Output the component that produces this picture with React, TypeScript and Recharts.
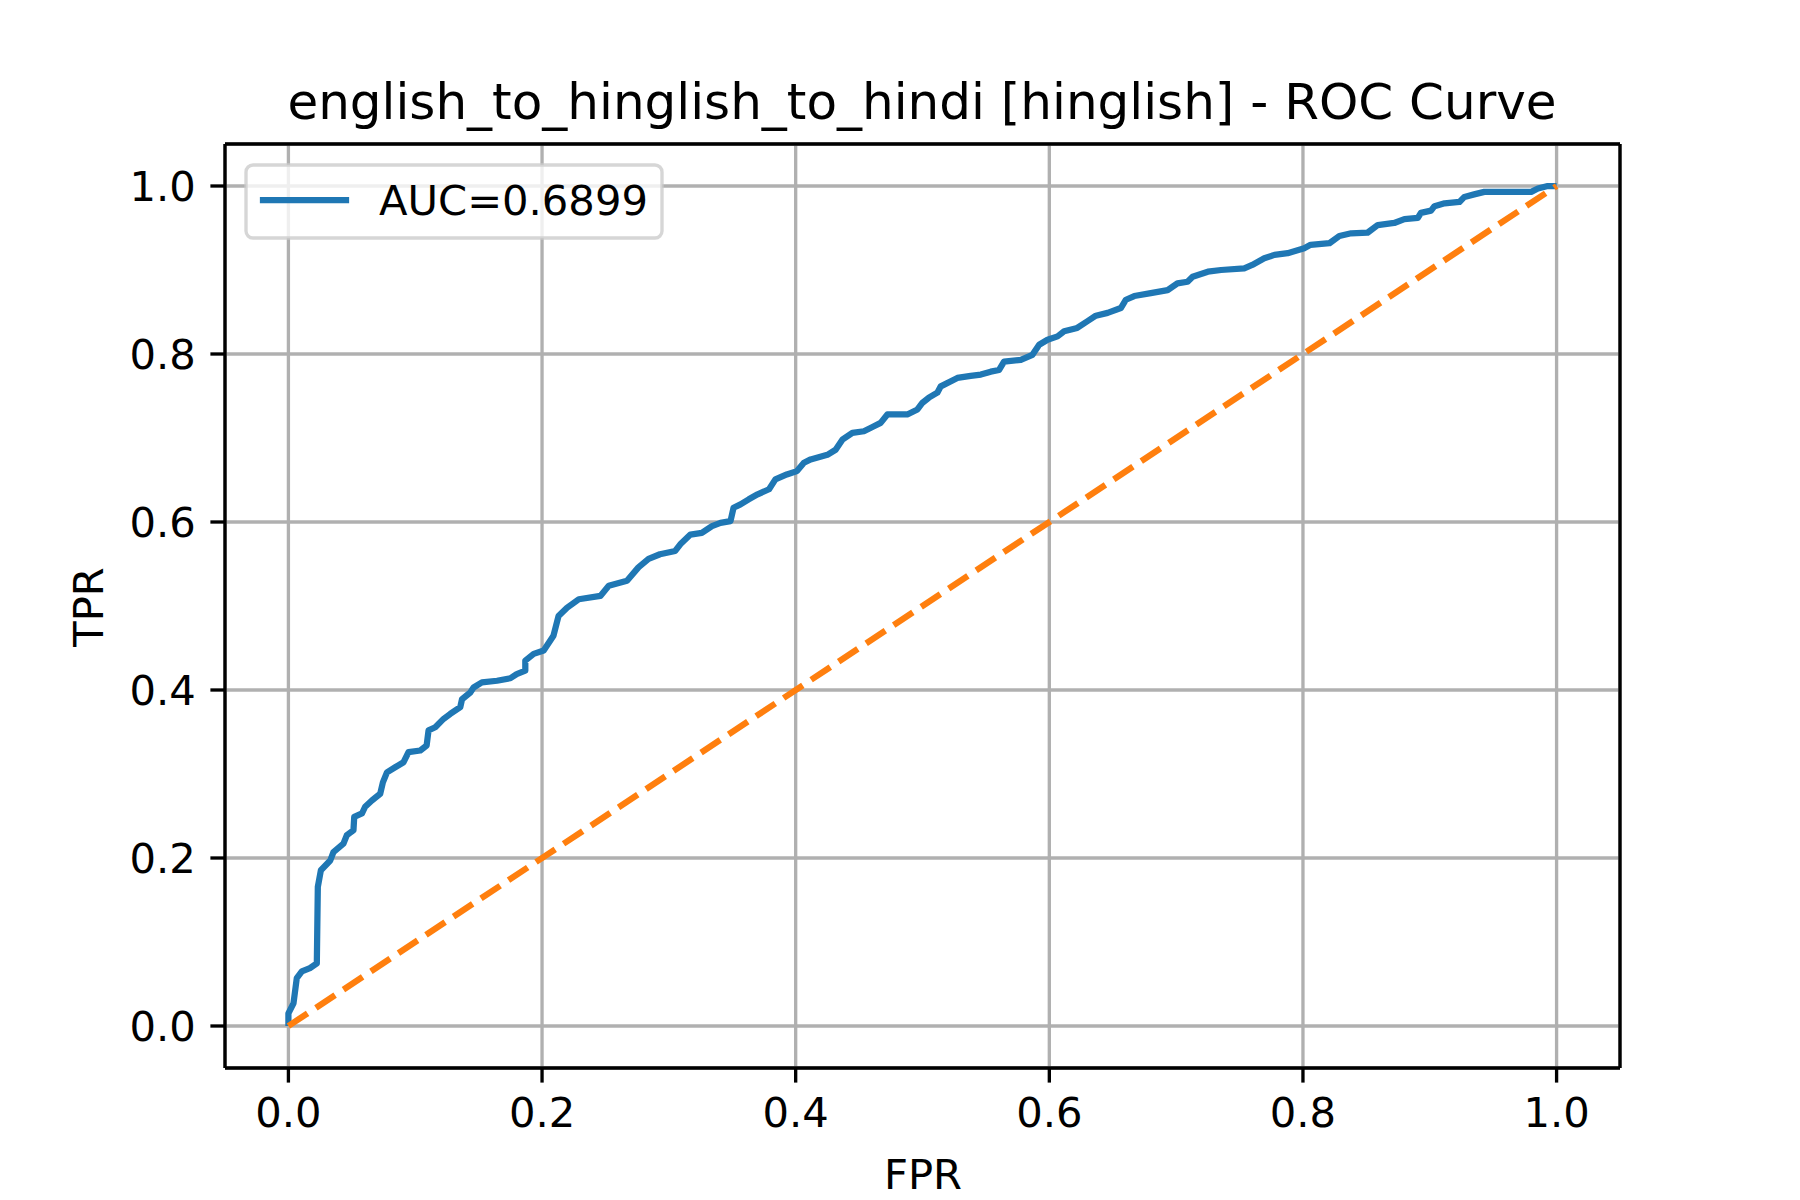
import { LineChart, Line, XAxis, YAxis, CartesianGrid } from "recharts";

// ROC curve points
const fpr = [
  0, 0, 0.004, 0.0066, 0.0106, 0.017, 0.0224, 0.0232, 0.0256, 0.033, 0.0355,
  0.0434, 0.046, 0.0513, 0.0519, 0.058, 0.0605, 0.0658, 0.0724, 0.0745, 0.0777,
  0.0842, 0.0908, 0.0947, 0.104, 0.109, 0.1105, 0.1158, 0.1223, 0.1276, 0.1355,
  0.1369, 0.1434, 0.146, 0.1526, 0.1645, 0.175, 0.18, 0.1868, 0.1868, 0.1934,
  0.2013, 0.209, 0.213, 0.2197, 0.229, 0.246, 0.2526, 0.267, 0.276, 0.284,
  0.293, 0.305, 0.309, 0.317, 0.326, 0.334, 0.3407, 0.3486, 0.351, 0.3565,
  0.363, 0.37, 0.379, 0.384, 0.393, 0.401, 0.4065, 0.4118, 0.425, 0.4315,
  0.4368, 0.4447, 0.4538, 0.4617, 0.467, 0.4723, 0.488, 0.496, 0.5, 0.505,
  0.5117, 0.5144, 0.5275, 0.538, 0.546, 0.5538, 0.5604, 0.5643, 0.5775, 0.5867,
  0.592, 0.5986, 0.6065, 0.6117, 0.622, 0.63, 0.6367, 0.646, 0.6564, 0.6604,
  0.667, 0.68, 0.6933, 0.701, 0.709, 0.713, 0.725, 0.7354, 0.7537, 0.76,
  0.7695, 0.7775, 0.788, 0.801, 0.806, 0.821, 0.8287, 0.838, 0.851, 0.859,
  0.872, 0.88, 0.8906, 0.893, 0.901, 0.9037, 0.9117, 0.9234, 0.9273, 0.935,
  0.943, 0.98, 0.9853, 0.993, 1.0,
];
const tpr = [
  0, 0.015, 0.027, 0.057, 0.065, 0.069, 0.0745, 0.1656, 0.1854, 0.197, 0.207,
  0.217, 0.227, 0.233, 0.249, 0.253, 0.261, 0.2685, 0.2765, 0.29, 0.302, 0.308,
  0.314, 0.326, 0.328, 0.334, 0.352, 0.3557, 0.3656, 0.3715, 0.3795, 0.389,
  0.397, 0.403, 0.409, 0.411, 0.414, 0.419, 0.423, 0.435, 0.443, 0.447, 0.4645,
  0.488, 0.498, 0.508, 0.512, 0.524, 0.53, 0.546, 0.556, 0.5616, 0.5655,
  0.5735, 0.585, 0.587, 0.595, 0.599, 0.601, 0.617, 0.621, 0.627, 0.633, 0.639,
  0.6507, 0.6566, 0.6606, 0.6706, 0.6745, 0.68, 0.686, 0.698, 0.706, 0.708,
  0.714, 0.718, 0.728, 0.728, 0.734, 0.742, 0.748, 0.754, 0.7615, 0.7715,
  0.774, 0.7755, 0.779, 0.781, 0.791, 0.793, 0.799, 0.811, 0.817, 0.821, 0.827,
  0.831, 0.839, 0.8456, 0.849, 0.8547, 0.8646, 0.869, 0.8725, 0.876, 0.884,
  0.886, 0.892, 0.898, 0.9, 0.902, 0.906, 0.914, 0.918, 0.92, 0.926, 0.93,
  0.932, 0.9405, 0.9437, 0.9445, 0.9535, 0.956, 0.9606, 0.962, 0.968, 0.9707,
  0.976, 0.9794, 0.981, 0.987, 0.99, 0.993, 0.993, 0.997, 1.0, 1.0,
];

// chance diagonal
const diagFpr = [0, 1];
const diagTpr = [0, 1];

const ticks = [0, 0.2, 0.4, 0.6, 0.8, 1.0];
const aucLabel = "AUC=0.6899";
const title = "english_to_hinglish_to_hindi [hinglish] - ROC Curve";

const rocData = fpr.map((x, i) => ({ fpr: x, tpr: tpr[i] }));
const diagData = diagFpr.map((x, i) => ({ fpr: x, tpr: diagTpr[i] }));

const font = "DejaVu Sans";
const fmt = (v: number) => v.toFixed(1);
const tickStyle = { fontSize: 41.7, fill: "#000", fontFamily: font };

export default function App() {
  return (
    <div style={{ position: "absolute", left: 0, top: 0, width: 1800, height: 1200, background: "#fff" }}>
      <LineChart width={1800} height={1200} margin={{ top: 0, right: 0, bottom: 0, left: 0 }}>
        <CartesianGrid stroke="#b0b0b0" strokeWidth={3.33} />
        <XAxis
          dataKey="fpr"
          type="number"
          domain={[-0.05, 1.05]}
          ticks={ticks}
          tickFormatter={fmt}
          allowDataOverflow
          height={132}
          tick={tickStyle}
          tickSize={14.6}
          tickMargin={14.6}
          tickLine={{ stroke: "#000", strokeWidth: 3.33 }}
          axisLine={{ stroke: "#000", strokeWidth: 3.33 }}
        />
        <XAxis
          xAxisId="top"
          orientation="top"
          type="number"
          domain={[-0.05, 1.05]}
          height={144}
          tick={false}
          tickLine={false}
          axisLine={{ stroke: "#000", strokeWidth: 3.33 }}
        />
        <YAxis
          type="number"
          domain={[-0.05, 1.05]}
          ticks={ticks}
          tickFormatter={fmt}
          allowDataOverflow
          width={225}
          tick={tickStyle}
          tickSize={14.6}
          tickMargin={14.6}
          tickLine={{ stroke: "#000", strokeWidth: 3.33 }}
          axisLine={{ stroke: "#000", strokeWidth: 3.33 }}
        />
        <YAxis
          yAxisId="right"
          orientation="right"
          type="number"
          domain={[-0.05, 1.05]}
          width={180}
          tick={false}
          tickLine={false}
          axisLine={{ stroke: "#000", strokeWidth: 3.33 }}
        />
        <Line
          data={rocData}
          dataKey="tpr"
          type="linear"
          stroke="#1f77b4"
          strokeWidth={6.25}
          strokeLinejoin="round"
          dot={false}
          activeDot={false}
          isAnimationActive={false}
        />
        <Line
          data={diagData}
          dataKey="tpr"
          type="linear"
          stroke="#ff7f0e"
          strokeWidth={6.25}
          strokeDasharray="23 10"
          dot={false}
          activeDot={false}
          legendType="none"
          isAnimationActive={false}
        />
      </LineChart>
      <svg
        width={1800}
        height={1200}
        style={{ position: "absolute", left: 0, top: 0, pointerEvents: "none" }}
        fontFamily={font}
      >
        <text x={922} y={119} fontSize={50} textAnchor="middle" fill="#000">
          {title}
        </text>
        <text x={923} y={1189} fontSize={41.7} textAnchor="middle" fill="#000">
          FPR
        </text>
        <text
          x={103}
          y={607}
          fontSize={41.7}
          textAnchor="middle"
          fill="#000"
          transform="rotate(-90 103 607)"
        >
          TPR
        </text>
        <rect
          x={246}
          y={165}
          width={416}
          height={73}
          rx={7}
          fill="#fff"
          fillOpacity={0.8}
          stroke="#cccccc"
          strokeOpacity={0.8}
          strokeWidth={3.33}
        />
        <line x1={263} y1={200} x2={346} y2={200} stroke="#1f77b4" strokeWidth={6.25} strokeLinecap="square" />
        <text x={379} y={215} fontSize={41.7} fill="#000">
          {aucLabel}
        </text>
      </svg>
    </div>
  );
}
